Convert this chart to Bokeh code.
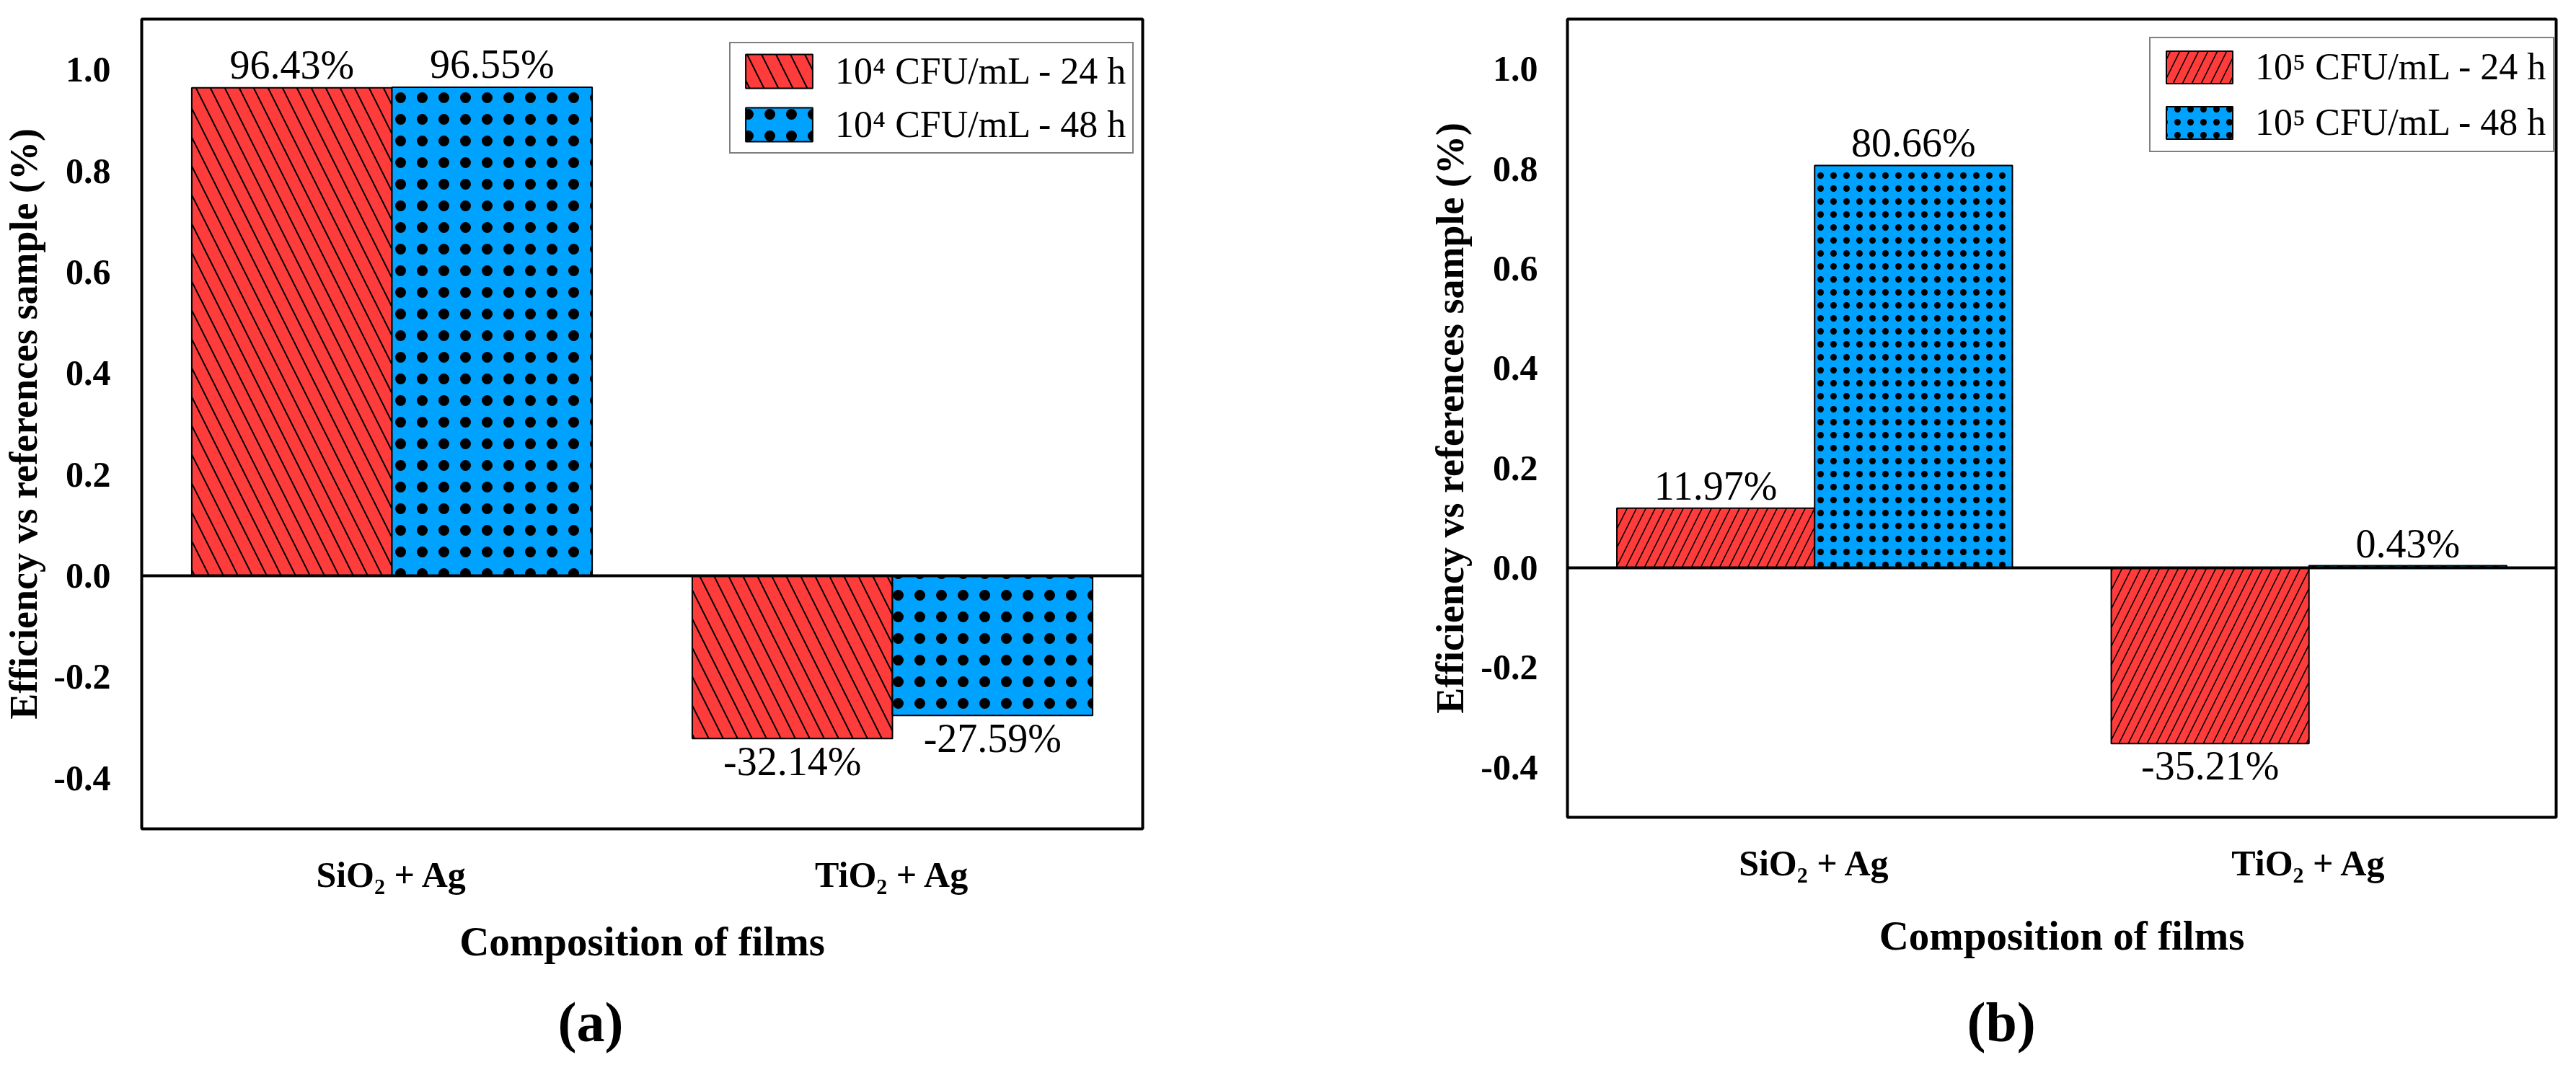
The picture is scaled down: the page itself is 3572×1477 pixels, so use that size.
from bokeh.plotting import figure
from bokeh.models import ColumnDataSource, FactorRange, FixedTicker, Span, Title
from bokeh.transform import dodge
from bokeh.layouts import row
from bokeh.embed import file_html
from bokeh.resources import INLINE
from bokeh.core.properties import value

# ---------------- data ----------------
categories = ["SiO\u2082 + Ag", "TiO\u2082 + Ag"]

a_24h = [0.9643, -0.3214]
a_48h = [0.9655, -0.2759]
a_series = ["10\u2074 CFU/mL - 24 h", "10\u2074 CFU/mL - 48 h"]

b_24h = [0.1197, -0.3521]
b_48h = [0.8066, 0.0043]
b_series = ["10\u2075 CFU/mL - 24 h", "10\u2075 CFU/mL - 48 h"]

y_ticks = [-0.4, -0.2, 0.0, 0.2, 0.4, 0.6, 0.8, 1.0]
y_tick_labels = ["-0.4", "-0.2", "0.0", "0.2", "0.4", "0.6", "0.8", "1.0"]

y_title = "Efficiency vs references sample (%)"
x_title = "Composition of films"
captions = ["(a)", "(b)"]

# ---------------- style ----------------
RED = "#FF3C3C"
BLUE = "#00A2FF"
SERIF = "Liberation Serif"


def make_panel(v24, v48, names, caption, cfg):
    gap = cfg["gap"]
    src = ColumnDataSource(dict(
        cat=categories,
        v24=v24, v48=v48,
        l24=[f"{v * 100:.2f}%" for v in v24],
        l48=[f"{v * 100:.2f}%" for v in v48],
        o24=[-gap if v >= 0 else gap for v in v24],
        o48=[-gap if v >= 0 else gap for v in v48],
    ))

    p = figure(
        x_range=FactorRange(*categories, range_padding=0),
        y_range=(-0.5, 1.1),
        frame_width=cfg["fw"], frame_height=cfg["fh"],
        min_border_left=cfg["bl"], min_border_right=cfg["br"],
        min_border_top=cfg["bt"], min_border_bottom=cfg["bb"],
        output_backend="svg", toolbar_location=None, tools="",
        background_fill_color="white", border_fill_color="white",
    )

    p.vbar(x=dodge("cat", -0.2, range=p.x_range), top="v24", width=0.4, source=src,
           fill_color=RED, line_color="black", line_width=2,
           hatch_pattern=value(cfg["h24"]),
           hatch_scale=cfg["hs24"], hatch_weight=cfg["hw24"],
           hatch_color="black", legend_label=names[0])
    p.vbar(x=dodge("cat", 0.2, range=p.x_range), top="v48", width=0.4, source=src,
           fill_color=BLUE, line_color="black", line_width=2,
           hatch_pattern=value("dot"),
           hatch_scale=cfg["hs48"], hatch_weight=cfg["hw48"],
           hatch_color="black", legend_label=names[1])

    for xo, ycol, tcol, ocol in [(-0.2, "v24", "l24", "o24"), (0.2, "v48", "l48", "o48")]:
        p.text(x=dodge("cat", xo, range=p.x_range), y=ycol, text=tcol, y_offset=ocol,
               source=src, text_align="center", text_baseline="middle",
               text_font=value(SERIF), text_font_size="56px", text_color="black")

    p.add_layout(Span(location=0, dimension="width", line_color="black", line_width=4))

    p.xgrid.visible = False
    p.ygrid.visible = False
    p.outline_line_color = "black"
    p.outline_line_width = 4

    for ax in (p.xaxis[0], p.yaxis[0]):
        ax.axis_line_color = None
        ax.major_tick_line_color = None
        ax.minor_tick_line_color = None
        ax.major_label_text_font = SERIF
        ax.major_label_text_font_style = "bold"
        ax.major_label_text_font_size = "50px"
        ax.major_label_text_color = "black"
        ax.axis_label_text_font = SERIF
        ax.axis_label_text_font_style = "bold"
        ax.axis_label_text_color = "black"

    p.yaxis.ticker = FixedTicker(ticks=y_ticks)
    p.yaxis.major_label_overrides = dict(zip(y_ticks, y_tick_labels))
    p.yaxis.axis_label = y_title
    p.yaxis.axis_label_text_font_size = "54px"
    p.yaxis.major_label_standoff = cfg["yls"]
    p.yaxis.axis_label_standoff = cfg["yas"]

    p.xaxis.axis_label = x_title
    p.xaxis.axis_label_text_font_size = "57px"
    p.xaxis.major_label_standoff = cfg["xls"]
    p.xaxis.axis_label_standoff = cfg["xas"]

    lg = p.legend[0]
    lg.location = cfg["leg"]
    lg.margin = 0
    lg.padding = cfg["lpad"]
    lg.spacing = cfg["lsp"]
    lg.label_standoff = 20
    lg.glyph_width = cfg["gw"]
    lg.glyph_height = cfg["gh"]
    lg.label_text_font = SERIF
    lg.label_text_font_size = "52px"
    lg.label_text_color = "black"
    lg.border_line_color = "black"
    lg.border_line_width = 2
    lg.background_fill_color = "white"
    lg.background_fill_alpha = 1

    p.add_layout(Title(text=caption, align="left", offset=cfg["cap"],
                       text_font=SERIF, text_font_size="78px", text_font_style="bold",
                       text_color="black", standoff=cfg["cst"]), "below")
    return p


cfg_a = dict(fw=1388, fh=1123, bl=193, br=211, bt=13, bb=325, gap=32,
             h24="left_diagonal_line", hs24=40, hw24=2, hs48=30, hw48=1,
             yls=37, yas=8, xls=29, xas=30, leg=(815, 936), gw=116, gh=59,
             lpad=9, lsp=15, cap=577, cst=64)
cfg_b = dict(fw=1371, fh=1107, bl=378, br=15, bt=26, bb=328, gap=31,
             h24="right_diagonal_line", hs24=26, hw24=1.6, hs48=18, hw48=1,
             yls=35, yas=9, xls=29, xas=38, leg=(807, 922), gw=115, gh=56,
             lpad=10, lsp=18, cap=554, cst=80)

pa = make_panel(a_24h, a_48h, a_series, captions[0], cfg_a)
pb = make_panel(b_24h, b_48h, b_series, captions[1], cfg_b)

layout = row(pa, pb)
open("out.html", "w").write(file_html(layout, INLINE))
